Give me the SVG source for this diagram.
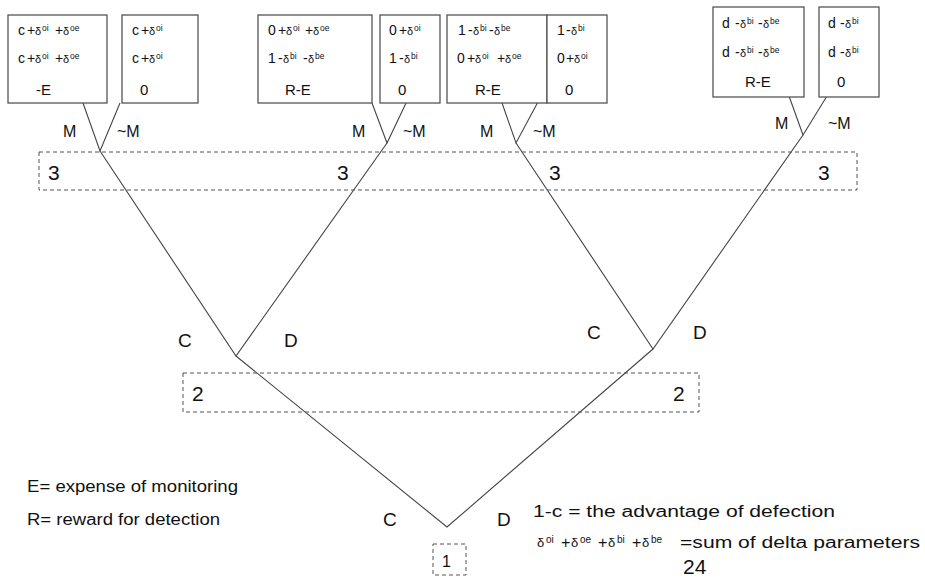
<svg xmlns="http://www.w3.org/2000/svg" width="925" height="578" viewBox="0 0 925 578">
  <style>
    text { font-family: "Liberation Sans", Arial, sans-serif; fill: #111; }
    .pay { font-size: 14px; }
    .pay3 { font-size: 15px; }
    .d { font-size: 11px; }
    .s { font-size: 8.5px; }
    .ld { font-size: 13px; }
    .ls { font-size: 10px; }
    .box { fill: #fff; stroke: #555; stroke-width: 1.3; }
    .info { fill: none; stroke: #555; stroke-width: 1; stroke-dasharray: 4 3; }
    .edge { fill: none; stroke: #444; stroke-width: 1.1; }
    .lbl { font-size: 16px; }
    .cd { font-size: 19px; }
    .num { font-size: 21px; }
    .leg { font-size: 16px; }
  </style>

  <!-- branches of the game tree -->
  <g id="connectors">
    <polyline class="edge" points="83,103 100,151 120,103"/>
    <polyline class="edge" points="372,103 387,143 407,101"/>
    <polyline class="edge" points="501,100 516,143 539,100"/>
    <polyline class="edge" points="789,96 803,135 827,96"/>
    <polyline class="edge" points="100,151 236,356 387,143"/>
    <polyline class="edge" points="516,143 653,349 803,135"/>
    <polyline class="edge" points="236,356 447,527 653,349"/>
  </g>

  <!-- information sets -->
  <g id="infoset-3">
    <rect class="info" x="39" y="152" width="818" height="38"/>
    <text class="num" x="48" y="180">3</text>
    <text class="num" x="337" y="180">3</text>
    <text class="num" x="549" y="180">3</text>
    <text class="num" x="818" y="180">3</text>
  </g>
  <g id="infoset-2">
    <rect class="info" x="183" y="373" width="516" height="39"/>
    <text class="num" x="192" y="401">2</text>
    <text class="num" x="673" y="401">2</text>
  </g>
  <g id="root">
    <rect class="info" x="433" y="544" width="33" height="31"/>
    <text class="lbl" x="442" y="567">1</text>
    <text class="cd" x="383" y="526">C</text>
    <text class="cd" x="497" y="526">D</text>
  </g>

  <!-- move labels -->
  <g id="moves-2">
    <text class="cd" x="178" y="347">C</text>
    <text class="cd" x="284" y="347">D</text>
    <text class="cd" x="587" y="339">C</text>
    <text class="cd" x="693" y="339">D</text>
  </g>
  <g id="moves-3">
    <text class="lbl" x="63" y="137">M</text>
    <text class="lbl" x="117" y="137">~M</text>
    <text class="lbl" x="352" y="137">M</text>
    <text class="lbl" x="403" y="137">~M</text>
    <text class="lbl" x="480" y="137">M</text>
    <text class="lbl" x="533" y="137">~M</text>
    <text class="lbl" x="775" y="129">M</text>
    <text class="lbl" x="828" y="129">~M</text>
  </g>

  <!-- payoff boxes -->
  <g id="payoff-1">
    <rect class="box" x="8" y="15" width="99" height="88"/>
    <text class="pay" y="35"><tspan x="18">c</tspan><tspan x="27">+</tspan><tspan class="d" x="35">δ</tspan><tspan class="s" x="42" dy="-4">oi</tspan><tspan x="55" dy="4">+</tspan><tspan class="d" x="63">δ</tspan><tspan class="s" x="70" dy="-4">oe</tspan></text>
    <text class="pay" y="63"><tspan x="18">c</tspan><tspan x="27">+</tspan><tspan class="d" x="35">δ</tspan><tspan class="s" x="42" dy="-4">oi</tspan><tspan x="55" dy="4">+</tspan><tspan class="d" x="63">δ</tspan><tspan class="s" x="70" dy="-4">oe</tspan></text>
    <text class="pay3" x="36" y="95">-E</text>
  </g>
  <g id="payoff-2">
    <rect class="box" x="122" y="15" width="76" height="88"/>
    <text class="pay" y="35"><tspan x="132">c</tspan><tspan x="141">+</tspan><tspan class="d" x="149">δ</tspan><tspan class="s" x="156" dy="-4">oi</tspan></text>
    <text class="pay" y="63"><tspan x="132">c</tspan><tspan x="141">+</tspan><tspan class="d" x="149">δ</tspan><tspan class="s" x="156" dy="-4">oi</tspan></text>
    <text class="pay3" x="140" y="95">0</text>
  </g>
  <g id="payoff-3">
    <rect class="box" x="258" y="15" width="114" height="88"/>
    <text class="pay" y="35"><tspan x="268">0</tspan><tspan x="278">+</tspan><tspan class="d" x="286">δ</tspan><tspan class="s" x="293" dy="-4">oi</tspan><tspan x="305" dy="4">+</tspan><tspan class="d" x="313">δ</tspan><tspan class="s" x="320" dy="-4">oe</tspan></text>
    <text class="pay" y="63"><tspan x="268">1</tspan><tspan x="278">-</tspan><tspan class="d" x="283">δ</tspan><tspan class="s" x="290" dy="-4">bi</tspan><tspan x="303" dy="4">-</tspan><tspan class="d" x="308">δ</tspan><tspan class="s" x="315" dy="-4">be</tspan></text>
    <text class="pay3" x="285" y="95">R-E</text>
  </g>
  <g id="payoff-4">
    <rect class="box" x="380" y="15" width="60" height="88"/>
    <text class="pay" y="35"><tspan x="389">0</tspan><tspan x="399">+</tspan><tspan class="d" x="407">δ</tspan><tspan class="s" x="414" dy="-4">oi</tspan></text>
    <text class="pay" y="63"><tspan x="389">1</tspan><tspan x="399">-</tspan><tspan class="d" x="404">δ</tspan><tspan class="s" x="411" dy="-4">bi</tspan></text>
    <text class="pay3" x="398" y="95">0</text>
  </g>
  <g id="payoff-5">
    <rect class="box" x="447" y="15" width="100" height="88"/>
    <text class="pay" y="35"><tspan x="458">1</tspan><tspan x="468">-</tspan><tspan class="d" x="473">δ</tspan><tspan class="s" x="480" dy="-4">bi</tspan><tspan x="489" dy="4">-</tspan><tspan class="d" x="494">δ</tspan><tspan class="s" x="501" dy="-4">be</tspan></text>
    <text class="pay" y="63"><tspan x="457">0</tspan><tspan x="467">+</tspan><tspan class="d" x="475">δ</tspan><tspan class="s" x="482" dy="-4">oi</tspan><tspan x="497" dy="4">+</tspan><tspan class="d" x="505">δ</tspan><tspan class="s" x="512" dy="-4">oe</tspan></text>
    <text class="pay3" x="475" y="95">R-E</text>
  </g>
  <g id="payoff-6">
    <rect class="box" x="547" y="15" width="60" height="88"/>
    <text class="pay" y="35"><tspan x="557">1</tspan><tspan x="566">-</tspan><tspan class="d" x="571">δ</tspan><tspan class="s" x="578" dy="-4">bi</tspan></text>
    <text class="pay" y="63"><tspan x="557">0</tspan><tspan x="566">+</tspan><tspan class="d" x="574">δ</tspan><tspan class="s" x="581" dy="-4">oi</tspan></text>
    <text class="pay3" x="565" y="95">0</text>
  </g>
  <g id="payoff-7">
    <rect class="box" x="713" y="7" width="91" height="90"/>
    <text class="pay" y="28"><tspan x="722">d</tspan><tspan x="735">-</tspan><tspan class="d" x="740">δ</tspan><tspan class="s" x="747" dy="-4">bi</tspan><tspan x="758" dy="4">-</tspan><tspan class="d" x="763">δ</tspan><tspan class="s" x="770" dy="-4">be</tspan></text>
    <text class="pay" y="57"><tspan x="722">d</tspan><tspan x="735">-</tspan><tspan class="d" x="740">δ</tspan><tspan class="s" x="747" dy="-4">bi</tspan><tspan x="758" dy="4">-</tspan><tspan class="d" x="763">δ</tspan><tspan class="s" x="770" dy="-4">be</tspan></text>
    <text class="pay3" x="745" y="87">R-E</text>
  </g>
  <g id="payoff-8">
    <rect class="box" x="819" y="7" width="60" height="90"/>
    <text class="pay" y="28"><tspan x="828">d</tspan><tspan x="840">-</tspan><tspan class="d" x="845">δ</tspan><tspan class="s" x="852" dy="-4">bi</tspan></text>
    <text class="pay" y="57"><tspan x="828">d</tspan><tspan x="840">-</tspan><tspan class="d" x="845">δ</tspan><tspan class="s" x="852" dy="-4">bi</tspan></text>
    <text class="pay3" x="837" y="87">0</text>
  </g>

  <!-- legend -->
  <g id="legend">
    <text class="leg" x="27" y="492" textLength="211" lengthAdjust="spacingAndGlyphs">E= expense of monitoring</text>
    <text class="leg" x="27" y="525" textLength="193" lengthAdjust="spacingAndGlyphs">R= reward for detection</text>
    <text class="leg" x="533" y="517" textLength="302" lengthAdjust="spacingAndGlyphs">1-c = the advantage of defection</text>
    <text class="leg" y="548"><tspan class="ld" x="537" dy="-1">δ</tspan><tspan class="ls" x="546" dy="-4">oi</tspan><tspan x="561" dy="5">+</tspan><tspan class="ld" x="571" dy="-1">δ</tspan><tspan class="ls" x="580" dy="-4">oe</tspan><tspan x="598" dy="5">+</tspan><tspan class="ld" x="608" dy="-1">δ</tspan><tspan class="ls" x="617" dy="-4">bi</tspan><tspan x="632" dy="5">+</tspan><tspan class="ld" x="642" dy="-1">δ</tspan><tspan class="ls" x="651" dy="-4">be</tspan><tspan x="680" dy="5" textLength="240" lengthAdjust="spacingAndGlyphs">=sum of delta parameters</tspan></text>
    <text x="683" y="574" style="font-size:21px">24</text>
  </g>
</svg>
